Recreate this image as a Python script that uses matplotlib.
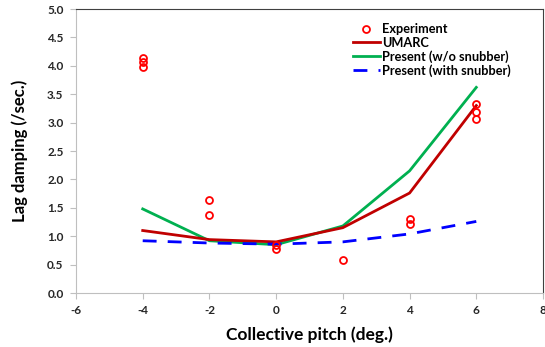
import matplotlib.pyplot as plt

plt.rcParams['font.family'] = ['Lato', 'DejaVu Sans']
plt.rcParams['font.weight'] = 'bold'
plt.rcParams['axes.unicode_minus'] = False

pitch = [-4, -2, 0, 2, 4, 6]

exp_x = [-4, -4, -4, -2, -2, 0, 0, 2, 4, 4, 6, 6, 6]
exp_y = [4.13, 4.07, 3.98, 1.63, 1.38, 0.84, 0.77, 0.58, 1.30, 1.22, 3.33, 3.19, 3.07]

umarc = [1.10, 0.94, 0.90, 1.15, 1.76, 3.30]
no_snubber = [1.48, 0.92, 0.85, 1.18, 2.15, 3.62]
with_snubber = [0.92, 0.88, 0.86, 0.90, 1.04, 1.26]

fig = plt.figure(figsize=(5.45, 3.47), dpi=100)
ax = fig.add_axes([76 / 545, 1 - 293 / 347, (543 - 76) / 545, (293 - 9) / 347])

ax.plot(exp_x, exp_y, 'o', mfc='none', mec='#ff0000', mew=1.3, ms=5,
        label='Experiment', zorder=4)
ax.plot(pitch, umarc, color='#c00000', lw=2, label='UMARC', zorder=3)
ax.plot(pitch, no_snubber, color='#00b050', lw=2, label='Present (w/o snubber)', zorder=2)
ax.plot(pitch, with_snubber, color='#0000ff', lw=2, dashes=(5, 4),
        label='Present (with snubber)', zorder=3)

ax.set_xlim(-6, 8)
ax.set_ylim(0, 5)
ax.set_xticks(range(-6, 9, 2))
ax.set_yticks([i * 0.5 for i in range(11)])
ax.set_yticklabels(['%.1f' % (i * 0.5) for i in range(11)])

for s in ['left', 'bottom']:
    ax.spines[s].set_color('#bfbfbf')
for s in ['top', 'right']:
    ax.spines[s].set_color('#404040')
    ax.spines[s].set_linewidth(0.8)
ax.tick_params(direction='out', length=4, color='#bfbfbf', labelsize=8.5, pad=5,
               labelcolor='#262626')
for lbl in ax.get_xticklabels() + ax.get_yticklabels():
    lbl.set_fontweight('bold')

ax.set_xlabel('Collective pitch (deg.)', fontsize=12.5, fontweight='bold', labelpad=7)
ax.set_ylabel('Lag damping (/sec.)', fontsize=12, fontweight='bold', labelpad=14)

ax.legend(loc='upper left', bbox_to_anchor=(353 / 545, 1 - 23 / 347),
          bbox_transform=fig.transFigure, frameon=False, borderpad=0,
          fontsize=9.2, handlelength=2.1, handletextpad=0.15, labelspacing=0.12,
          borderaxespad=0)

fig.savefig('out.png', dpi=100)
